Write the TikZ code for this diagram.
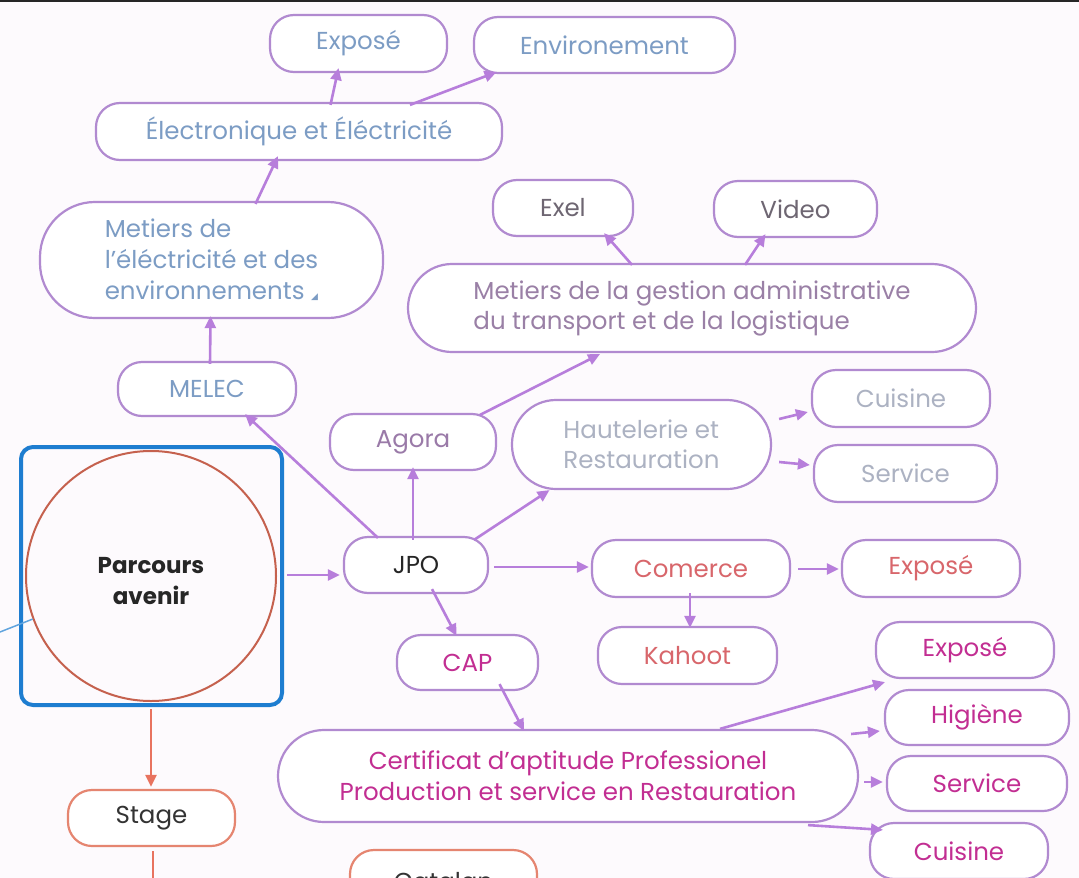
\documentclass[tikz,border=0pt]{standalone}
\usepackage{fontspec}
\setmainfont{Poppins}
\newfontfamily\djv{DejaVu Sans}
\usetikzlibrary{arrows.meta,calc}
\definecolor{bg}{HTML}{FDFAFD}
\definecolor{boxc}{HTML}{B18AD0}
\definecolor{arrc}{HTML}{B77EDB}
\definecolor{bluet}{HTML}{7C9CC4}
\definecolor{gestt}{HTML}{9A80A6}
\definecolor{greyt}{HTML}{6E6672}
\definecolor{agorat}{HTML}{9A7AA8}
\definecolor{lightt}{HTML}{ACB2C2}
\definecolor{coralt}{HTML}{D8666B}
\definecolor{magt}{HTML}{C22E92}
\definecolor{sqblue}{HTML}{1E7DD0}
\definecolor{circc}{HTML}{C5614E}
\definecolor{stagec}{HTML}{E58570}
\definecolor{orarr}{HTML}{E8735F}
\tikzset{
  pill/.style={draw=boxc, line width=2.2pt, fill=white, rounded corners=24pt, inner sep=0pt, align=center, font=\fontsize{24.5}{30}\selectfont},
  bigpill/.style={pill, rounded corners=44pt},
  arr/.style={draw=arrc, line width=2.6pt, -{Triangle[length=12pt,width=11pt]}},
  oarr/.style={draw=orarr, line width=2.4pt, -{Triangle[length=12pt,width=11pt]}},
}
\begin{document}
\begin{tikzpicture}[x=1pt,y=-1pt]
\useasboundingbox (0,0) rectangle (1079,878);
\clip (0,0) rectangle (1079,878);
\fill[bg] (0,0) rectangle (1079,878);
\draw[black!85, line width=2.5pt] (0,1) -- (1079,1);

% nodes
\node[pill, minimum width=177pt, minimum height=57pt, text=bluet] (expo1) at (358.5,43.5) {Exposé};
\node[pill, minimum width=261pt, minimum height=56pt, text=bluet] (envi) at (604.5,45) {Environement};
\node[pill, minimum width=406pt, minimum height=57pt, text=bluet] (elec) at (299,131.5) {Électronique et Éléctricité};
\node[pill, rounded corners=55pt, minimum width=343pt, minimum height=116pt, text=bluet, align=left, font=\fontsize{24.5}{31}\selectfont] (metel) at (211.5,260) {Metiers de\\l'éléctricité et des\\environnements {\djv\fontsize{9}{9}\selectfont ◢}};
\node[pill, minimum width=178pt, minimum height=54pt, text=bluet] (melec) at (207,389) {MELEC};
\node[pill, minimum width=140pt, minimum height=56pt, text=greyt] (exel) at (563,208) {Exel};
\node[pill, minimum width=163pt, minimum height=56pt, text=greyt] (video) at (795.5,209) {Video};
\node[bigpill, minimum width=568pt, minimum height=88pt, text=gestt, align=left] (gest) at (692,308) {Metiers de la gestion administrative\\du transport et de la logistique};
\node[pill, minimum width=166pt, minimum height=56pt, text=agorat] (agora) at (413,442) {Agora};
\node[bigpill, minimum width=259pt, minimum height=89pt, text=lightt, align=left] (haut) at (641.5,444.5) {Hautelerie et\\Restauration};
\node[pill, minimum width=178pt, minimum height=57pt, text=lightt] (cuis1) at (901,398.5) {Cuisine};
\node[pill, minimum width=183pt, minimum height=57pt, text=lightt] (serv1) at (905.5,473.5) {Service};

\node[draw=sqblue, line width=4pt, rounded corners=12pt, minimum width=261pt, minimum height=258pt, inner sep=0pt] (sq) at (151.5,576) {};
\node[circle, draw=circc, line width=2pt, minimum size=250pt, inner sep=0pt] (parc) at (151,576) {};
\node[align=center, inner sep=0pt, font=\fontsize{23}{31}\selectfont\bfseries, text=black!85] (parct) at (151,581) {Parcours\\avenir};

\node[pill, minimum width=144pt, minimum height=56pt, text=black!85] (jpo) at (416,565) {JPO};
\node[pill, minimum width=198pt, minimum height=57pt, text=coralt] (comm) at (691,568.5) {Comerce};
\node[pill, minimum width=178pt, minimum height=57pt, text=coralt] (expo2) at (931,568.5) {Exposé};
\node[pill, minimum width=179pt, minimum height=57pt, text=coralt] (kahoot) at (687.5,655.5) {Kahoot};
\node[pill, minimum width=141pt, minimum height=55pt, text=magt] (cap) at (467.5,662.5) {CAP};
\node[pill, rounded corners=46pt, minimum width=580pt, minimum height=92pt, text=magt, font=\fontsize{24.5}{31}\selectfont] (cert) at (568,776) {Certificat d’aptitude Professionel\\Production et service en Restauration};
\node[pill, minimum width=178pt, minimum height=56pt, text=magt] (expo3) at (965,650) {Exposé};
\node[pill, minimum width=184pt, minimum height=55pt, text=magt] (hig) at (977,717.5) {Higiène};
\node[pill, minimum width=180pt, minimum height=55pt, text=magt] (serv2) at (977,783.5) {Service};
\node[pill, minimum width=178pt, minimum height=56pt, text=magt] (cuis2) at (959,851) {Cuisine};

\node[pill, draw=stagec, minimum width=167pt, minimum height=56pt, text=black!80] (stage) at (151.5,818) {Stage};
\node[pill, draw=stagec, minimum width=187pt, minimum height=64pt, text=black!80] (cat) at (443.5,882) {Catalan};
\coordinate (stdown) at (153,880);
\coordinate (leftend) at (0,632);

% connectors
\draw[arr] ([xshift=-28pt,yshift=-3pt]expo1.south |- elec.north) -- ([xshift=-20pt,yshift=5pt]expo1.south);
\draw[arr] ([xshift=111pt,yshift=-3pt]elec.north) -- ([xshift=-108pt,yshift=2pt]envi.south);
\draw[arr] ([xshift=44pt,yshift=-3pt]metel.north) -- ([xshift=-21pt,yshift=5pt]elec.south);
\draw[arr] ([xshift=3pt,yshift=-3pt]melec.north) -- ([xshift=-1pt,yshift=3pt]metel.south);
\draw[arr] ([xshift=-38pt,yshift=-2pt]jpo.north) -- ([xshift=38pt,yshift=3pt]melec.south);
\draw[arr] ([yshift=-4pt]jpo.north -| agora.south) -- ([yshift=4pt]agora.south);
\draw[arr] ([xshift=58pt,yshift=-4pt]jpo.north) -- ([xshift=-92pt,yshift=0pt]haut.south);
\draw[arr] ([xshift=67pt,yshift=-2pt]agora.north) -- ([xshift=-92pt,yshift=-1pt]gest.south);
\draw[arr] ([xshift=-60pt,yshift=-2pt]gest.north) -- ([xshift=41pt,yshift=4pt]exel.south);
\draw[arr] ([xshift=53pt,yshift=-2pt]gest.north) -- ([xshift=-30pt,yshift=4pt]video.south);
\draw[arr] ([xshift=7pt]haut.east |- 0,419) -- ([xshift=-3pt]cuis1.west |- 0,412);
\draw[arr] ([xshift=7pt]haut.east |- 0,462) -- ([xshift=-3pt]serv1.west |- 0,465);
\draw[arr] ([xshift=3pt]sq.east |- 0,575) -- ([xshift=-3pt]jpo.west |- 0,575);
\draw[arr] ([xshift=5pt]jpo.east |- 0,567) -- ([xshift=-2pt]comm.west |- 0,567);
\draw[arr] ([xshift=7pt]comm.east |- 0,569) -- ([xshift=-2pt]expo2.west |- 0,569);
\draw[arr] ([xshift=-1pt,yshift=5pt]comm.south) -- ([xshift=2.5pt,yshift=-2pt]kahoot.north);
\draw[arr] ([xshift=16pt,yshift=5pt]jpo.south) -- ([xshift=-11pt,yshift=-2pt]cap.north);
\draw[arr] ([xshift=32pt,yshift=7pt]cap.south) -- ([xshift=-44pt,yshift=-2pt]cert.north);
\draw[arr] ([xshift=152pt,yshift=0pt]cert.north) -- ([xshift=-80pt,yshift=-3pt]expo3.south);
\draw[arr] ([xshift=-8pt]cert.east |- 0,734) -- ([xshift=-4pt]hig.west |- 0,731);
\draw[arr] ([xshift=5pt]cert.east |- 0,782) -- ([xshift=-3pt]serv2.west |- 0,782);
\draw[arr] ([xshift=240pt,yshift=-2pt]cert.south) -- ([xshift=-76pt,yshift=-8pt]cuis2.north);
\draw[oarr] ([yshift=-2pt]sq.south -| parc.south) -- ([yshift=2pt]stage.north -| parc.south);
\draw[draw=orarr, line width=2.4pt] ([yshift=-4pt]stage.south -| stdown) -- (stdown);
\draw[draw=sqblue!70, line width=1.5pt] (leftend) -- (parc.200);
\end{tikzpicture}
\end{document}
